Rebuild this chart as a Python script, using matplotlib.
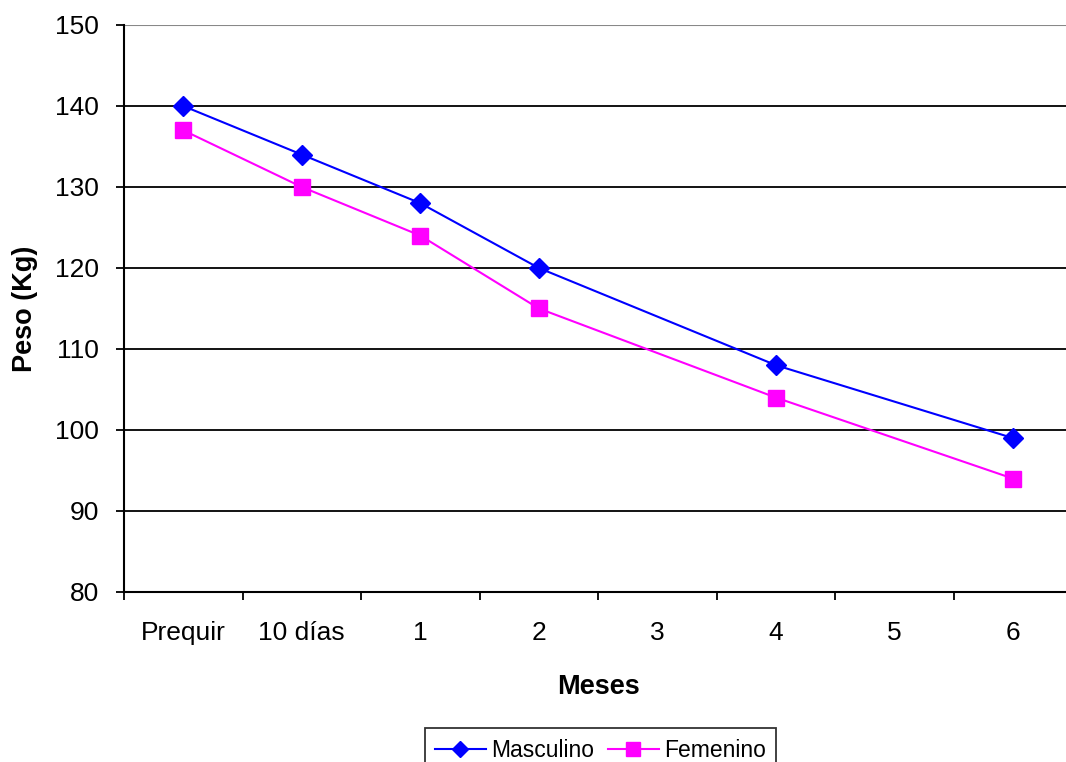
import numpy as np
import matplotlib
matplotlib.use("Agg")
import matplotlib.pyplot as plt
from matplotlib.ticker import FixedLocator

plt.rcParams['font.family'] = ['Liberation Sans', 'DejaVu Sans']

categorias = ["Prequir", "10 días", "1", "2", "3", "4", "5", "6"]
masculino = [140, 134, 128, 120, None, 108, None, 99]
femenino = [137, 130, 124, 115, None, 104, None, 94]

fig = plt.figure(figsize=(10.66, 7.62), dpi=100)
ax = fig.add_axes([0.1163, 0.2231, 0.8896, 0.7441])

def puntos(vals):
    xs = [i for i, v in enumerate(vals) if v is not None]
    ys = [v for v in vals if v is not None]
    return xs, ys

xm, ym = puntos(masculino)
xf, yf = puntos(femenino)
ax.plot(xm, ym, color="#0000FF", lw=1.5, marker="D", ms=10,
        mec="#0000FF", mfc="#0000FF", label="Masculino", zorder=4)
ax.plot(xf, yf, color="#FF00FF", lw=1.5, marker="s", ms=11.5,
        mec="#FF00FF", mfc="#FF00FF", label="Femenino", zorder=3)

ax.set_xlim(-0.5, len(categorias) - 0.5)
ax.set_ylim(80, 150)
ax.set_yticks(np.arange(80, 151, 10))
for y in range(90, 141, 10):
    ax.axhline(y, color="black", lw=1.3, zorder=1)
ax.axhline(150, color="#888888", lw=1.5, zorder=1)

ax.set_xticks(range(len(categorias)))
ax.set_xticklabels(categorias)
ax.xaxis.set_minor_locator(FixedLocator(np.arange(-0.5, len(categorias), 1.0)))
ax.tick_params(axis="x", which="major", length=0, pad=21, labelsize=19)
ax.tick_params(axis="x", which="minor", length=6, width=1.3, direction="out")
ax.tick_params(axis="y", length=6, width=1.3, direction="out", pad=12, labelsize=19)

for s in ["top", "right"]:
    ax.spines[s].set_visible(False)
for s in ["left", "bottom"]:
    ax.spines[s].set_linewidth(1.5)

ax.set_xlabel("Meses", fontsize=19.5, fontweight="bold", labelpad=21)
ax.set_ylabel("Peso (Kg)", fontsize=19.5, fontweight="bold", labelpad=12)

leg = fig.legend(loc="upper center", bbox_to_anchor=(0.5635, 0.0440), ncol=2,
                 fontsize=16.5, frameon=True, fancybox=False, edgecolor="black",
                 handlelength=2.2, handletextpad=0.25, columnspacing=0.6,
                 borderpad=0.45, borderaxespad=0.0, markerscale=0.85)
leg.get_frame().set_linewidth(1.3)

fig.savefig("out.png", dpi=100)
